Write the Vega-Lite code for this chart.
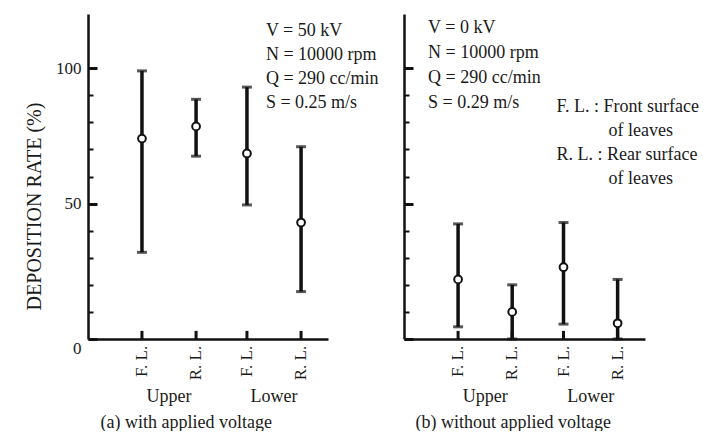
{
  "$schema": "https://vega.github.io/schema/vega-lite/v6.json",
  "background": "white",
  "padding": {"left": 24, "top": 14, "right": 0, "bottom": 0},
  "config": {
    "font": "Liberation Serif",
    "view": {"stroke": null},
    "axis": {"labelFont": "Liberation Serif", "titleFont": "Liberation Serif", "labelColor": "#1a1a1a", "titleColor": "#1a1a1a", "domainColor": "#111111", "tickColor": "#111111", "grid": false, "titleFontWeight": "normal"},
    "text": {"font": "Liberation Serif", "color": "#1a1a1a"}
  },
  "datasets": {
    "a": [
      {"height": "Upper", "surface": "F. L.", "mean": 74, "lo": 32, "hi": 99},
      {"height": "Upper", "surface": "R. L.", "mean": 78.5, "lo": 67.5, "hi": 88.5},
      {"height": "Lower", "surface": "F. L.", "mean": 68.5, "lo": 49.5, "hi": 93},
      {"height": "Lower", "surface": "R. L.", "mean": 43, "lo": 17.5, "hi": 71}
    ],
    "b": [
      {"height": "Upper", "surface": "F. L.", "mean": 22, "lo": 4.5, "hi": 42.5},
      {"height": "Upper", "surface": "R. L.", "mean": 10, "lo": 0, "hi": 20},
      {"height": "Lower", "surface": "F. L.", "mean": 26.5, "lo": 5.5, "hi": 43},
      {"height": "Lower", "surface": "R. L.", "mean": 5.8, "lo": 0, "hi": 22}
    ]
  },
  "bounds": "flush",
  "spacing": 76,
  "hconcat": [
    {
      "width": 240,
      "height": 325,
      "data": {"name": "a"},
      "encoding": {
        "x": {"field": "height", "type": "nominal", "scale": {"domain": ["Upper", "Lower"], "paddingInner": 0, "paddingOuter": 0.143, "align": 0.95},
          "axis": {"title": "(a) with applied voltage", "ticks": false, "labelAngle": 0, "labelPadding": 48, "labelFontSize": 18, "titleFontSize": 18, "titlePadding": 8, "domainWidth": 2.5, "titleAnchor": "start", "titleAlign": "left", "titleX": 12}},
        "xOffset": {"field": "surface", "type": "nominal", "scale": {"domain": ["F. L.", "R. L."], "paddingInner": 0.06, "paddingOuter": 0}}
      },
      "layer": [
        {
          "mark": {"type": "rule", "strokeWidth": 3.5, "color": "#111111"},
          "encoding": {
            "y": {"field": "lo", "type": "quantitative", "scale": {"domain": [0, 120], "nice": false},
              "axis": {"title": "DEPOSITION RATE (%)", "values": [0, 10, 20, 30, 40, 50, 60, 70, 80, 90, 100], "tickCount": 12,
                "labelExpr": "datum.value % 50 === 0 && datum.value <= 100 ? datum.label : ''",
                "tickSize": {"condition": {"test": "datum.value % 50 === 0", "value": -9}, "value": -5},
                "tickWidth": {"condition": {"test": "datum.value % 50 === 0", "value": 3}, "value": 2},
                "tickOpacity": {"condition": {"test": "datum.value > 100", "value": 0}, "value": 1},
                "labelOffset": {"condition": {"test": "datum.value === 0", "value": 9}, "value": 0},
                "labelFontSize": 17, "labelPadding": 16, "titleFontSize": 20, "titlePadding": 11, "titleY": 192, "domainWidth": 2.5, "labelOverlap": false, "labelFlush": false}},
            "y2": {"field": "hi"}
          }
        },
        {
          "mark": {"type": "rule", "strokeWidth": 3, "color": "#111111"},
          "encoding": {"y": {"datum": 0, "type": "quantitative"}, "y2": {"datum": 3}}
        },
        {
          "mark": {"type": "tick", "thickness": 3, "size": 10, "color": "#111111"},
          "encoding": {"y": {"field": "lo", "type": "quantitative"}}
        },
        {
          "mark": {"type": "tick", "thickness": 3, "size": 10, "color": "#111111"},
          "encoding": {"y": {"field": "hi", "type": "quantitative"}}
        },
        {
          "mark": {"type": "point", "shape": "circle", "filled": true, "fill": "white", "stroke": "#111111", "strokeWidth": 2, "size": 60, "opacity": 1},
          "encoding": {"y": {"field": "mean", "type": "quantitative"}}
        },
        {
          "mark": {"type": "text", "angle": 270, "align": "right", "baseline": "middle", "fontSize": 17},
          "encoding": {"y": {"datum": -2.5, "type": "quantitative"}, "text": {"field": "surface"}}
        },
        {
          "data": {"values": [{}]},
          "mark": {"type": "text", "align": "left", "baseline": "top", "fontSize": 18, "lineHeight": 24.3, "dx": 19,
            "text": ["V = 50 kV", "N = 10000 rpm", "Q = 290 cc/min", "S = 0.25 m/s"]},
          "encoding": {
            "x": {"datum": "Lower", "type": "nominal"},
            "xOffset": {"datum": "F. L.", "type": "nominal"},
            "y": {"datum": 117.2, "type": "quantitative"}
          }
        }
      ]
    },
    {
      "width": 241,
      "height": 325,
      "data": {"name": "b"},
      "encoding": {
        "x": {"field": "height", "type": "nominal", "scale": {"domain": ["Upper", "Lower"], "paddingInner": 0, "paddingOuter": 0.143, "align": 0.95},
          "axis": {"title": "(b) without applied voltage", "ticks": false, "labelAngle": 0, "labelPadding": 48, "labelFontSize": 18, "titleFontSize": 18, "titlePadding": 8, "domainWidth": 2.5, "titleAnchor": "start", "titleAlign": "left", "titleX": 11}},
        "xOffset": {"field": "surface", "type": "nominal", "scale": {"domain": ["F. L.", "R. L."], "paddingInner": 0.06, "paddingOuter": 0}}
      },
      "layer": [
        {
          "mark": {"type": "rule", "strokeWidth": 3.5, "color": "#111111"},
          "encoding": {
            "y": {"field": "lo", "type": "quantitative", "scale": {"domain": [0, 120], "nice": false},
              "axis": {"title": null, "values": [0, 10, 20, 30, 40, 50, 60, 70, 80, 90, 100], "tickCount": 12,
                "labels": false,
                "tickSize": {"condition": {"test": "datum.value % 50 === 0", "value": -9}, "value": -5},
                "tickWidth": {"condition": {"test": "datum.value % 50 === 0", "value": 3}, "value": 2},
                "tickOpacity": {"condition": {"test": "datum.value > 100", "value": 0}, "value": 1},
                "domainWidth": 2.5}},
            "y2": {"field": "hi"}
          }
        },
        {
          "mark": {"type": "rule", "strokeWidth": 3, "color": "#111111"},
          "encoding": {"y": {"datum": 0, "type": "quantitative"}, "y2": {"datum": 3}}
        },
        {
          "mark": {"type": "tick", "thickness": 3, "size": 10, "color": "#111111"},
          "encoding": {"y": {"field": "lo", "type": "quantitative"}}
        },
        {
          "mark": {"type": "tick", "thickness": 3, "size": 10, "color": "#111111"},
          "encoding": {"y": {"field": "hi", "type": "quantitative"}}
        },
        {
          "mark": {"type": "point", "shape": "circle", "filled": true, "fill": "white", "stroke": "#111111", "strokeWidth": 2, "size": 60, "opacity": 1},
          "encoding": {"y": {"field": "mean", "type": "quantitative"}}
        },
        {
          "mark": {"type": "text", "angle": 270, "align": "right", "baseline": "middle", "fontSize": 17},
          "encoding": {"y": {"datum": -2.5, "type": "quantitative"}, "text": {"field": "surface"}}
        },
        {
          "data": {"values": [{}]},
          "mark": {"type": "text", "align": "left", "baseline": "top", "fontSize": 18, "lineHeight": 25, "dx": -30,
            "text": ["V = 0 kV", "N = 10000 rpm", "Q = 290 cc/min", "S = 0.29 m/s"]},
          "encoding": {
            "x": {"datum": "Upper", "type": "nominal"},
            "xOffset": {"datum": "F. L.", "type": "nominal"},
            "y": {"datum": 118.2, "type": "quantitative"}
          }
        },
        {
          "data": {"values": [{}]},
          "mark": {"type": "text", "align": "left", "baseline": "top", "fontSize": 18, "lineHeight": 48, "dx": -7,
            "text": ["F. L. : Front surface", "R. L. : Rear surface"]},
          "encoding": {
            "x": {"datum": "Lower", "type": "nominal"},
            "xOffset": {"datum": "F. L.", "type": "nominal"},
            "y": {"datum": 89, "type": "quantitative"}
          }
        },
        {
          "data": {"values": [{}]},
          "mark": {"type": "text", "align": "left", "baseline": "top", "fontSize": 18, "lineHeight": 48, "dx": -9,
            "text": ["of leaves", "of leaves"]},
          "encoding": {
            "x": {"datum": "Lower", "type": "nominal"},
            "xOffset": {"datum": "R. L.", "type": "nominal"},
            "y": {"datum": 80, "type": "quantitative"}
          }
        }
      ]
    }
  ]
}
